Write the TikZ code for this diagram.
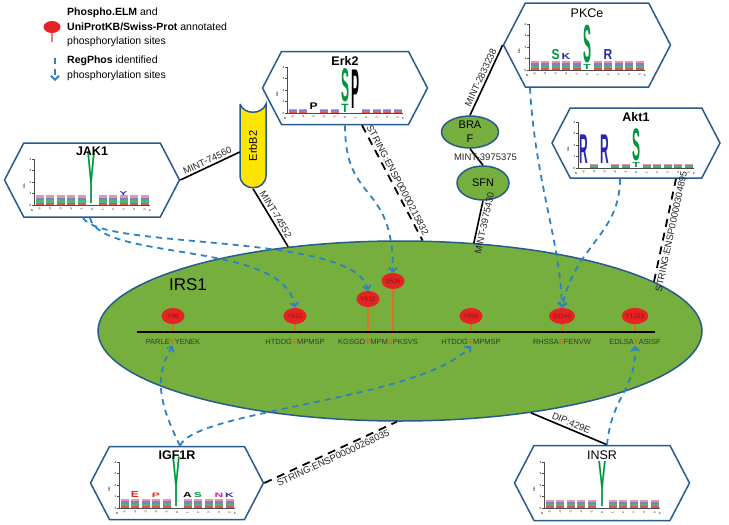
\documentclass[tikz,border=0pt]{standalone}
\usepackage{fontspec}
\setmainfont{Liberation Sans}
\usetikzlibrary{shapes.geometric,shapes.symbols,arrows.meta}

\definecolor{irsgreen}{RGB}{118,175,62}
\definecolor{hexblue}{RGB}{40,90,140}
\definecolor{regblue}{RGB}{45,130,195}
\definecolor{sitered}{RGB}{230,35,35}
\definecolor{sitetext}{RGB}{140,20,20}
\definecolor{stemorange}{RGB}{215,115,35}
\definecolor{resorange}{RGB}{240,95,0}
\definecolor{erbyellow}{RGB}{255,230,0}
\definecolor{seqgray}{RGB}{55,55,55}
\definecolor{logogreen}{RGB}{0,150,60}
\definecolor{logoblue}{RGB}{40,40,170}
\definecolor{logored}{RGB}{220,40,40}
\definecolor{logopink}{RGB}{230,150,170}
\definecolor{logopurple}{RGB}{190,40,150}

\tikzset{
  prot/.style={ellipse, draw=hexblue, line width=1.5pt, fill=irsgreen, inner sep=0pt, align=center, font=\fontsize{11}{14}\selectfont},
  logobox/.style={signal, signal to=west and east, signal pointer angle=125, draw=hexblue, line width=1.5pt, fill=white, inner sep=0pt},
  site/.style={ellipse, fill=sitered, minimum width=23pt, minimum height=16pt, inner sep=0pt, text=sitetext, font=\fontsize{6.5}{7}\selectfont},
  stem/.style={draw=stemorange, line width=1.2pt},
  seqtext/.style={font=\fontsize{7.5}{8}\selectfont, text=seqgray, inner sep=1pt},
  ppi/.style={draw=black, line width=1.6pt},
  stringln/.style={draw=black, line width=1.8pt, dash pattern=on 8pt off 6pt},
  plabel/.style={font=\fontsize{9.5}{10}\selectfont, text=black!85, inner sep=2pt},
  regphos/.style={draw=regblue, line width=1.8pt, dash pattern=on 6pt off 5pt, -{Straight Barb[length=4pt,width=8pt]}},
  logoaxis/.style={draw=black!70, line width=0.4pt},
  logotick/.style={font=\fontsize{3}{3}\selectfont, inner sep=0.5pt},
  logoletter/.style={font=\bfseries\fontsize{10}{10}\selectfont, inner sep=0pt, xscale=1.2, anchor=south},
  logotitle/.style={font=\bfseries\fontsize{12.5}{13}\selectfont},
  logotitleplain/.style={font=\fontsize{12.5}{13}\selectfont},
  legtext/.style={font=\fontsize{10.5}{14.5}\selectfont, align=left, inner sep=0pt, anchor=north west},
}

\newcommand{\hlres}[1]{{\bfseries\color{resorange}#1}}
% axes of a sequence logo, drawn round the box centre
\newcommand{\logoaxes}{%
  \draw[logoaxis] (-58,-21) -- (-58,25) -- (58,25);
  \foreach \b in {0,...,4}{
    \draw[logoaxis] (-60,25-11.5*\b) -- (-58,25-11.5*\b);
    \node[logotick, anchor=east] at (-60,25-11.5*\b) {\b};
  }
  \node[logotick, rotate=90] at (-68,6) {bits};
  \node[logotick] at (-60,30) {N};
  \node[logotick] at (58,30) {C};
  \foreach \p in {-5,...,5}
    \node[logotick, rotate=90] at (\p*10.5,29.5) {\p};
}
% small coloured stacks: positions, bar height
\newcommand{\logobars}[2]{%
  \foreach \p in {#1}{
    \fill[logored!80] (\p*10.5-4,25) rectangle ++(8,-#2);
    \fill[logogreen!70] (\p*10.5-4,25-#2) rectangle ++(8,-#2);
    \fill[logoblue!60] (\p*10.5-4,25-2*#2) rectangle ++(8,-#2);
    \fill[logopink] (\p*10.5-4,25-3*#2) rectangle ++(8,-#2);
  }
}
% one logo letter: position, base (bits), height (bits), colour, letter
\newcommand{\logochar}[5]{%
  \node[logoletter, text=#4, yscale=#3*1.6] at (#1*10.5,25-#2*11.5) {#5};
}

\begin{document}
\begin{tikzpicture}[x=1pt,y=-1pt]
\useasboundingbox (0,0) rectangle (729,525);

% IRS1 and its sites
\node[prot, minimum width=604pt, minimum height=180pt] (irs1) at (400,331) {};
\node[font=\fontsize{17}{17}\selectfont] (irs1lbl) at (188,285) {IRS1};

\coordinate (lineL) at (137,332);
\coordinate (lineR) at (655,332);

\node[site] (y46) at (173,316) {Y46};
\node[site] (y612) at (295,316) {Y612};
\node[site] (y632) at (368,299) {Y632};
\node[site] (s636) at (393,281) {S636};
\node[site] (y896) at (471,316) {Y896};
\node[site] (s1145) at (562,316) {S1145};
\node[site] (y1229) at (635,316) {Y1229};

\draw[stem] (y46.south) -- (y46.south |- lineL);
\draw[stem] (y612.south) -- (y612.south |- lineL);
\draw[stem] (y632.south) -- (y632.south |- lineL);
\draw[stem] (s636.south) -- (s636.south |- lineL);
\draw[stem] (y896.south) -- (y896.south |- lineL);
\draw[stem] (s1145.south) -- (s1145.south |- lineL);
\draw[stem] (y1229.south) -- (y1229.south |- lineL);
\draw[line width=1.6pt] (lineL) -- (lineR);

\node[seqtext] (seq46) at (173,342) {PARLE\hlres{Y}YENEK};
\node[seqtext] (seq612) at (295,342) {HTDDG\hlres{Y}MPMSP};
\node[seqtext] (seq632) at (378,342) {KGSGD\hlres{Y}MPM\hlres{S}PKSVS};
\node[seqtext] (seq896) at (471,342) {HTDDG\hlres{Y}MPMSP};
\node[seqtext] (seq1145) at (562,342) {RHSSA\hlres{S}FENVW};
\node[seqtext] (seq1229) at (635,342) {EDLSA\hlres{Y}ASISF};

% partners
\node[prot, minimum width=57pt, minimum height=32pt] (braf) at (470,132) {BRA\\F};
\node[prot, minimum width=52pt, minimum height=34pt] (sfn) at (483,183) {SFN};

\node[minimum width=26pt, minimum height=85pt, inner sep=0pt] (erbb2) at (253,146) {};
\draw[draw=hexblue, line width=1.5pt, fill=erbyellow] (240,104) -- (240,175)
  .. controls (240,192) and (266,192) .. (266,175) -- (266,104)
  .. controls (262,115) and (244,115) .. (240,104);
\node[rotate=90, font=\fontsize{11}{11}\selectfont] (erbb2t) at (erbb2) {ErbB2};

\node[logobox, minimum width=175pt, minimum height=74pt] (jak1) at (92,180) {};
\node[logobox, minimum width=165pt, minimum height=73pt] (erk2) at (345,88) {};
\node[logobox, minimum width=167pt, minimum height=84pt] (pkce) at (587,45) {};
\node[logobox, minimum width=168pt, minimum height=70pt] (akt1) at (636,143) {};
\node[logobox, minimum width=173pt, minimum height=73pt] (igf1r) at (177,483) {};
\node[logobox, minimum width=175pt, minimum height=75pt] (insr) at (602,483) {};

\begin{scope}[shift={(jak1.center)}]
  \logoaxes
  \logobars{-5,...,-1,1,2,...,5}{2.4}
  \logochar{0}{0}{4.6}{logogreen}{Y}
  \logochar{3}{0.8}{0.35}{logoblue}{Y}
  \node[logotitle] (jak1t) at (0,-29) {JAK1};
\end{scope}
\begin{scope}[shift={(erk2.center)}]
  \logoaxes
  \logobars{-5,-4,-2,-1,2,3,4,5}{0.9}
  \logochar{-3}{0.3}{0.6}{black}{P}
  \logochar{0}{0}{0.75}{logogreen}{T}
  \logochar{0}{0.85}{2.95}{logogreen}{S}
  \logochar{1}{0.3}{3.5}{black}{P}
  \node[logotitle] (erk2t) at (0,-27) {Erk2};
\end{scope}
\begin{scope}[shift={(pkce.center)}]
  \logoaxes
  \logobars{-5,...,-1,1,2,...,5}{2.2}
  \logochar{0}{0}{0.45}{logogreen}{T}
  \logochar{0}{0.55}{3.35}{logogreen}{S}
  \logochar{-3}{0.9}{0.9}{logogreen}{S}
  \logochar{-2}{0.9}{0.55}{logoblue}{K}
  \logochar{2}{0.9}{0.9}{logoblue}{R}
  \node[logotitleplain] (pkcet) at (0,-32) {PKCe};
\end{scope}
\begin{scope}[shift={(akt1.center)}]
  \logoaxes
  \logobars{-4,-2,-1,1,2,...,5}{1}
  \logochar{-5}{0.3}{2.6}{logoblue}{R}
  \logochar{-3}{0.3}{2.6}{logoblue}{R}
  \logochar{0}{0}{0.45}{logogreen}{T}
  \logochar{0}{0.55}{2.85}{logogreen}{S}
  \node[logotitle] (akt1t) at (0,-26) {Akt1};
\end{scope}
\begin{scope}[shift={(igf1r.center)}]
  \logoaxes
  \logobars{-5,...,-1,1,2,...,5}{2.2}
  \logochar{0}{0}{4.5}{logogreen}{Y}
  \logochar{-4}{0.9}{0.55}{logored}{E}
  \logochar{-2}{0.9}{0.4}{logored}{P}
  \logochar{1}{0.9}{0.45}{black}{A}
  \logochar{2}{0.9}{0.45}{logogreen}{S}
  \logochar{4}{0.9}{0.4}{logopurple}{N}
  \logochar{5}{0.9}{0.4}{logoblue}{K}
  \node[logotitle] (igf1rt) at (0,-28) {IGF1R};
\end{scope}
\begin{scope}[shift={(insr.center)}]
  \logoaxes
  \logobars{-5,...,-1,1,2,...,5}{2}
  \logochar{0}{0}{4.1}{logogreen}{Y}
  \node[logotitleplain] (insrt) at (0,-28) {INSR};
\end{scope}

% interactions
\draw[ppi] (jak1.east) -- node[plabel, above, sloped] {MINT-74560} ([yshift=-6pt]erbb2.west);
\draw[ppi] (erbb2.south) -- node[plabel, above, sloped] {MINT-74552} (irs1.143);
\draw[stringln] ([xshift=17pt]erk2.south) -- node[plabel, above, sloped] {STRING:ENSP00000215832} (irs1.76);
\draw[ppi] (braf.north) -- node[plabel, above, sloped] {MINT-2833238} (pkce.west);
\draw[ppi] (braf.south) -- node[plabel, xshift=9pt] {MINT-3975375} (sfn.north);
\draw[ppi] (irs1.50) -- node[plabel, below, sloped] {MINT-3975430} (sfn.south);
\draw[stringln] (irs1.11) -- node[plabel, below, sloped] {STRING:ENSP00000304895} ([xshift=40pt]akt1.south);
\draw[stringln] (igf1r.east) -- node[plabel, below, sloped] {STRING:ENSP00000268035} (irs1.268);
\draw[ppi] (irs1.328) -- node[plabel, above, sloped] {DIP:429E} ([xshift=5pt]insr.north);

% RegPhos predictions
\draw[regphos] ([xshift=-2pt]jak1.south) .. controls (100,262) and (285,240) .. (y612.north);
\draw[regphos] ([xshift=-9pt]jak1.south) .. controls (100,250) and (355,232) .. (y632.north);
\draw[regphos] (erk2.south) .. controls (345,205) and (393,180) .. (s636.north);
\draw[regphos] ([xshift=-57pt]pkce.south) .. controls (535,180) and (560,240) .. (s1145.north);
\draw[regphos] ([xshift=-16pt]akt1.south) .. controls (620,235) and (575,245) .. (s1145.north);
\draw[regphos] ([xshift=3pt]igf1r.north) .. controls (165,415) and (150,380) .. (seq46.south);
\draw[regphos] ([xshift=3pt]igf1r.north) .. controls (195,410) and (420,400) .. (seq896.south);
\draw[regphos] ([xshift=5pt]insr.north) .. controls (612,395) and (636,390) .. (seq1229.south);

% legend
\node[site, minimum width=17pt, minimum height=12pt] (legsite) at (52,27) {};
\coordinate (legstem) at (52,42);
\draw[stem, draw=sitered!60] (legsite.south) -- (legstem);
\node[legtext] (leg1) at (67,8) {\textbf{Phospho.ELM} and\\\textbf{UniProtKB/Swiss-Prot} annotated\\phosphorylation sites};
\coordinate (legA) at (55,58);
\coordinate (legB) at (55,81);
\draw[regphos] (legA) -- (legB);
\node[legtext] (leg2) at (67,56) {\textbf{RegPhos} identified\\phosphorylation sites};
\end{tikzpicture}
\end{document}
